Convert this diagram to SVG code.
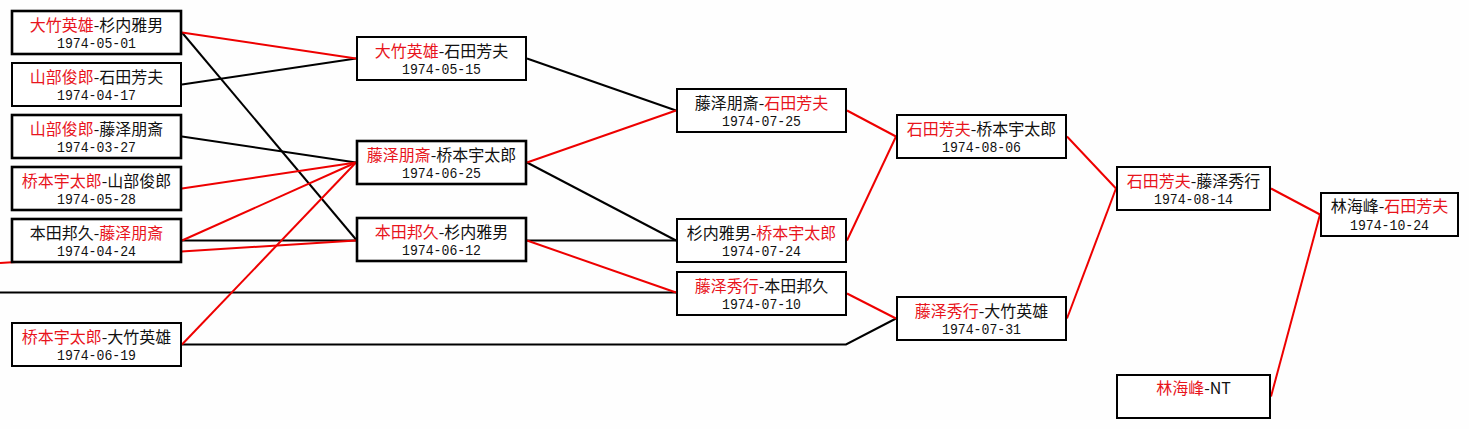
<svg xmlns="http://www.w3.org/2000/svg" width="1469" height="429" viewBox="0 0 1469 429">
<style>
.bg{fill:#fefefe}
.box{fill:#fff;stroke:#000;stroke-width:2}
.thick{stroke-width:2.6}
.t1{font-family:"Noto Sans CJK SC",sans-serif;font-size:16px;text-anchor:middle;fill:#111}
.t2{font-family:"Liberation Mono",monospace;font-size:15px;text-anchor:middle;fill:#111}
.r{fill:#e8141c}
.lk{stroke:#000;stroke-width:2;fill:none}
.lr{stroke:#ee0000;stroke-width:2;fill:none}
</style>
<rect class="bg" x="0" y="0" width="1469" height="429"/>
<g id="connectors">
<path class="lk" d="M182,32.5 L356,239.5"/>
<path class="lk" d="M182,84.5 L356,58.5"/>
<path class="lk" d="M182,136.5 L356,162.5"/>
<path class="lk" d="M182,240.5 L356,240.5"/>
<path class="lk" d="M0,292.5 L676,292.5"/>
<path class="lk" d="M182,344.5 L846,344.5 L896,318.5"/>
<path class="lk" d="M527,58.5 L676,110.5"/>
<path class="lk" d="M527,162.5 L676,240.5"/>
<path class="lk" d="M527,240.5 L676,240.5"/>
<path class="lr" d="M182,32.5 L356,58.5"/>
<path class="lr" d="M182,188.5 L356,162.5"/>
<path class="lr" d="M182,240.5 L356,162.5"/>
<path class="lr" d="M0,263 L356,240.5"/>
<path class="lr" d="M182,344.5 L356,162.5"/>
<path class="lr" d="M527,162.5 L676,110.5"/>
<path class="lr" d="M527,240.5 L676,292.5"/>
<path class="lr" d="M847,110.5 L896,136.5"/>
<path class="lr" d="M847,240.5 L896,136.5"/>
<path class="lr" d="M847,293.5 L896,318.5"/>
<path class="lr" d="M1067,136.5 L1116,188.5"/>
<path class="lr" d="M1067,318.5 L1116,188.5"/>
<path class="lr" d="M1271,188.5 L1320,214.5"/>
<path class="lr" d="M1271,396.5 L1320,214.5"/>
</g>
<g id="n1"><rect class="box thick" x="12" y="11" width="169" height="43"/>
<text class="t1" x="96.5" y="31"><tspan class="r">大竹英雄</tspan>-杉内雅男</text><text class="t2" x="96.5" y="48" textLength="79" lengthAdjust="spacingAndGlyphs">1974-05-01</text></g>
<g id="n2"><rect class="box" x="12" y="63" width="169" height="43"/>
<text class="t1" x="96.5" y="83"><tspan class="r">山部俊郎</tspan>-石田芳夫</text><text class="t2" x="96.5" y="100" textLength="79" lengthAdjust="spacingAndGlyphs">1974-04-17</text></g>
<g id="n3"><rect class="box thick" x="12" y="115" width="169" height="43"/>
<text class="t1" x="96.5" y="135"><tspan class="r">山部俊郎</tspan>-藤泽朋斎</text><text class="t2" x="96.5" y="152" textLength="79" lengthAdjust="spacingAndGlyphs">1974-03-27</text></g>
<g id="n4"><rect class="box thick" x="12" y="167" width="169" height="43"/>
<text class="t1" x="96.5" y="187"><tspan class="r">桥本宇太郎</tspan>-山部俊郎</text><text class="t2" x="96.5" y="204" textLength="79" lengthAdjust="spacingAndGlyphs">1974-05-28</text></g>
<g id="n5"><rect class="box thick" x="12" y="219" width="169" height="43"/>
<text class="t1" x="96.5" y="239">本田邦久-<tspan class="r">藤泽朋斎</tspan></text><text class="t2" x="96.5" y="256" textLength="79" lengthAdjust="spacingAndGlyphs">1974-04-24</text></g>
<g id="n6"><rect class="box" x="12" y="323" width="169" height="43"/>
<text class="t1" x="96.5" y="343"><tspan class="r">桥本宇太郎</tspan>-大竹英雄</text><text class="t2" x="96.5" y="360" textLength="79" lengthAdjust="spacingAndGlyphs">1974-06-19</text></g>
<g id="n7"><rect class="box" x="357" y="37" width="169" height="43"/>
<text class="t1" x="441.5" y="57"><tspan class="r">大竹英雄</tspan>-石田芳夫</text><text class="t2" x="441.5" y="74" textLength="79" lengthAdjust="spacingAndGlyphs">1974-05-15</text></g>
<g id="n8"><rect class="box thick" x="357" y="141" width="169" height="43"/>
<text class="t1" x="441.5" y="161"><tspan class="r">藤泽朋斎</tspan>-桥本宇太郎</text><text class="t2" x="441.5" y="178" textLength="79" lengthAdjust="spacingAndGlyphs">1974-06-25</text></g>
<g id="n9"><rect class="box thick" x="357" y="218" width="169" height="43"/>
<text class="t1" x="441.5" y="238"><tspan class="r">本田邦久</tspan>-杉内雅男</text><text class="t2" x="441.5" y="255" textLength="79" lengthAdjust="spacingAndGlyphs">1974-06-12</text></g>
<g id="n10"><rect class="box" x="677" y="89" width="169" height="43"/>
<text class="t1" x="761.5" y="109">藤泽朋斎-<tspan class="r">石田芳夫</tspan></text><text class="t2" x="761.5" y="126" textLength="79" lengthAdjust="spacingAndGlyphs">1974-07-25</text></g>
<g id="n11"><rect class="box" x="677" y="219" width="169" height="43"/>
<text class="t1" x="761.5" y="239">杉内雅男-<tspan class="r">桥本宇太郎</tspan></text><text class="t2" x="761.5" y="256" textLength="79" lengthAdjust="spacingAndGlyphs">1974-07-24</text></g>
<g id="n12"><rect class="box" x="677" y="272" width="169" height="43"/>
<text class="t1" x="761.5" y="292"><tspan class="r">藤泽秀行</tspan>-本田邦久</text><text class="t2" x="761.5" y="309" textLength="79" lengthAdjust="spacingAndGlyphs">1974-07-10</text></g>
<g id="n13"><rect class="box" x="897" y="115" width="169" height="43"/>
<text class="t1" x="981.5" y="135"><tspan class="r">石田芳夫</tspan>-桥本宇太郎</text><text class="t2" x="981.5" y="152" textLength="79" lengthAdjust="spacingAndGlyphs">1974-08-06</text></g>
<g id="n14"><rect class="box" x="897" y="297" width="169" height="43"/>
<text class="t1" x="981.5" y="317"><tspan class="r">藤泽秀行</tspan>-大竹英雄</text><text class="t2" x="981.5" y="334" textLength="79" lengthAdjust="spacingAndGlyphs">1974-07-31</text></g>
<g id="n15"><rect class="box" x="1117" y="167" width="153" height="43"/>
<text class="t1" x="1193.5" y="187"><tspan class="r">石田芳夫</tspan>-藤泽秀行</text><text class="t2" x="1193.5" y="204" textLength="79" lengthAdjust="spacingAndGlyphs">1974-08-14</text></g>
<g id="n16"><rect class="box" x="1117" y="375" width="153" height="43"/>
<text class="t1" x="1193.5" y="394"><tspan class="r">林海峰</tspan>-NT</text></g>
<g id="n17"><rect class="box" x="1321" y="193" width="137" height="43"/>
<text class="t1" x="1389.5" y="212">林海峰-<tspan class="r">石田芳夫</tspan></text><text class="t2" x="1389.5" y="230" textLength="79" lengthAdjust="spacingAndGlyphs">1974-10-24</text></g>
</svg>
